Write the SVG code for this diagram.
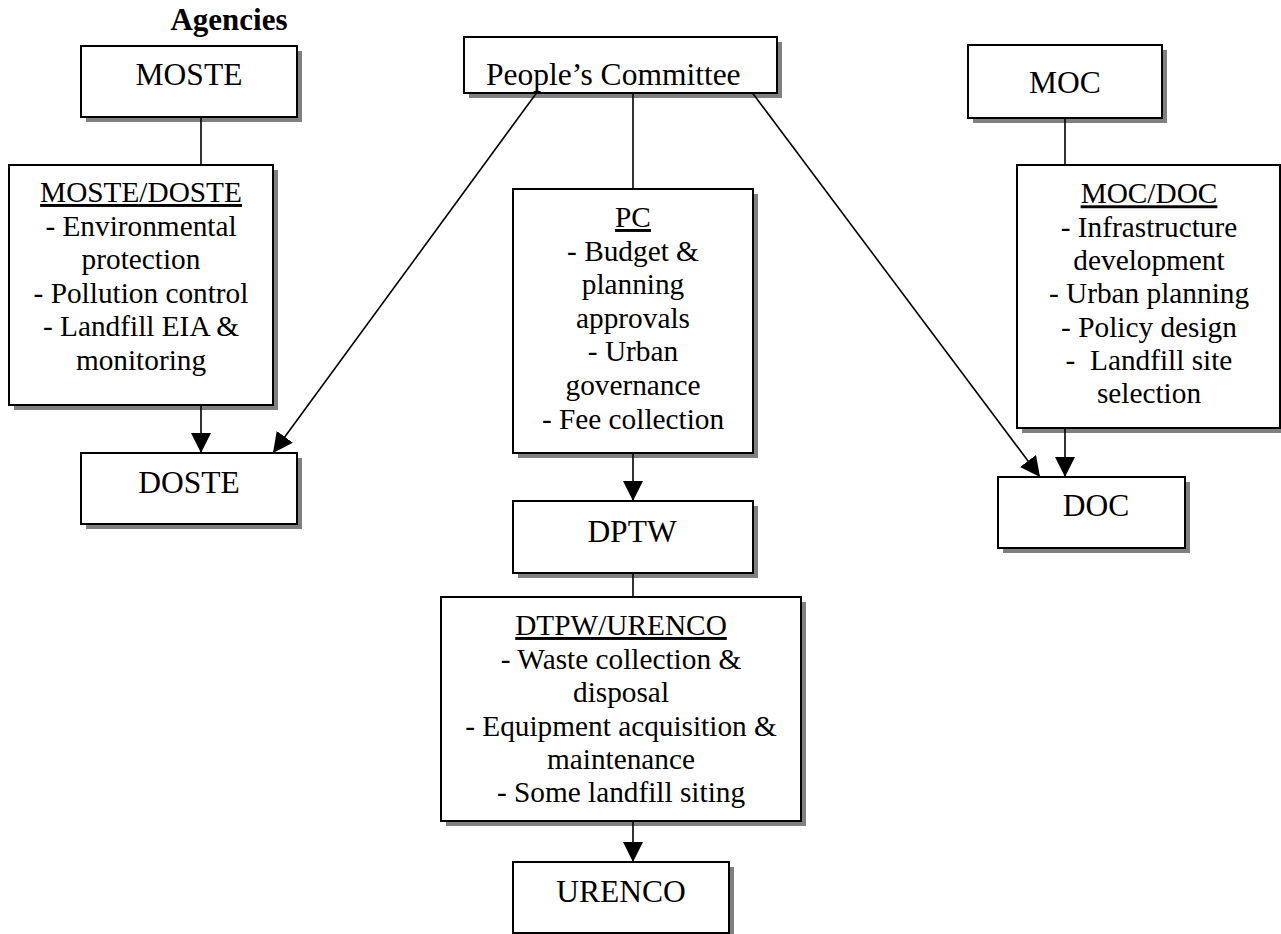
<svg xmlns="http://www.w3.org/2000/svg" width="1281" height="934" viewBox="0 0 1281 934">
<style>
  .shadow { fill: #808080; stroke: none; }
  .box { fill: #ffffff; stroke: #000000; stroke-width: 2; }
  .t { font-family: "Liberation Serif", "Times New Roman", serif; fill: #000000; text-anchor: middle; }
  .title { font-size: 31.5px; }
  .body { font-size: 29.3px; }
  .u { text-decoration: underline; }
  .conn { stroke: #000000; stroke-width: 1.6; fill: none; }
</style>
<defs>
  <marker id="arrow" markerUnits="userSpaceOnUse" markerWidth="21" markerHeight="21" refX="20" refY="10" orient="auto">
    <path d="M0,0 L20,10 L0,20 z" fill="#000000"/>
  </marker>
</defs>
<rect x="0" y="0" width="1281" height="934" fill="#ffffff"/>

<text id="agencies" x="229" y="30" class="t" style="font-size:31px;font-weight:bold">Agencies</text>

<g id="moste">
  <rect class="shadow" x="86" y="51" width="216" height="71"/>
  <rect class="box" x="81" y="46" width="216" height="71"/>
  <text class="t title" x="189" y="85">MOSTE</text>
</g>

<g id="moste-doste">
  <rect class="shadow" x="14" y="170" width="264" height="240"/>
  <rect class="box" x="9" y="165" width="264" height="240"/>
  <text class="t body" x="141" y="202"><tspan class="u">MOSTE/DOSTE</tspan></text>
  <text class="t body" x="141" y="235.5">- Environmental</text>
  <text class="t body" x="141" y="269">protection</text>
  <text class="t body" x="141" y="302.5">- Pollution control</text>
  <text class="t body" x="141" y="336">- Landfill EIA &amp;</text>
  <text class="t body" x="141" y="369.5">monitoring</text>
</g>

<g id="doste">
  <rect class="shadow" x="86" y="458" width="216" height="71"/>
  <rect class="box" x="81" y="453" width="216" height="71"/>
  <text class="t title" x="189" y="493">DOSTE</text>
</g>

<g id="peoples-committee">
  <rect class="shadow" x="469" y="42" width="313" height="56"/>
  <rect class="box" x="464" y="37" width="313" height="56"/>
  <text class="t title" x="486" y="85" style="text-anchor:start">People’s Committee</text>
</g>

<g id="pc">
  <rect class="shadow" x="518" y="194" width="240" height="264"/>
  <rect class="box" x="513" y="189" width="240" height="264"/>
  <text class="t body" x="633" y="227"><tspan class="u">PC</tspan></text>
  <text class="t body" x="633" y="260.5">- Budget &amp;</text>
  <text class="t body" x="633" y="294">planning</text>
  <text class="t body" x="633" y="327.5">approvals</text>
  <text class="t body" x="633" y="361">- Urban</text>
  <text class="t body" x="633" y="394.5">governance</text>
  <text class="t body" x="633" y="429">- Fee collection</text>
</g>

<g id="dptw">
  <rect class="shadow" x="518" y="506" width="240" height="72"/>
  <rect class="box" x="513" y="501" width="240" height="72"/>
  <text class="t title" x="632" y="542">DPTW</text>
</g>

<g id="dtpw-urenco">
  <rect class="shadow" x="446" y="602" width="360" height="224"/>
  <rect class="box" x="441" y="597" width="360" height="224"/>
  <text class="t body" x="621" y="635"><tspan class="u">DTPW/URENCO</tspan></text>
  <text class="t body" x="621" y="668.5">- Waste collection &amp;</text>
  <text class="t body" x="621" y="702">disposal</text>
  <text class="t body" x="621" y="735.5">- Equipment acquisition &amp;</text>
  <text class="t body" x="621" y="769">maintenance</text>
  <text class="t body" x="621" y="802">- Some landfill siting</text>
</g>

<g id="urenco">
  <rect class="shadow" x="518" y="867" width="216" height="71"/>
  <rect class="box" x="513" y="862" width="216" height="71"/>
  <text class="t title" x="621" y="902">URENCO</text>
</g>

<g id="moc">
  <rect class="shadow" x="973" y="50" width="194" height="73"/>
  <rect class="box" x="968" y="45" width="194" height="73"/>
  <text class="t title" x="1065" y="93">MOC</text>
</g>

<g id="moc-doc">
  <rect class="shadow" x="1022" y="170" width="263" height="263"/>
  <rect class="box" x="1017" y="165" width="263" height="263"/>
  <text class="t body" x="1149" y="203.3"><tspan class="u">MOC/DOC</tspan></text>
  <text class="t body" x="1149" y="236.7">- Infrastructure</text>
  <text class="t body" x="1149" y="270">development</text>
  <text class="t body" x="1149" y="303.3">- Urban planning</text>
  <text class="t body" x="1149" y="336.7">- Policy design</text>
  <text class="t body" x="1149" y="370" xml:space="preserve">-  Landfill site</text>
  <text class="t body" x="1149" y="403.3">selection</text>
</g>

<g id="doc">
  <rect class="shadow" x="1003" y="482" width="187" height="71"/>
  <rect class="box" x="998" y="477" width="187" height="71"/>
  <text class="t title" x="1096" y="516">DOC</text>
</g>

<g id="connectors">
  <line class="conn" x1="201" y1="117" x2="201" y2="165"/>
  <line class="conn" x1="201" y1="405" x2="201" y2="453" marker-end="url(#arrow)"/>
  <line class="conn" x1="536.5" y1="93" x2="273" y2="453" marker-end="url(#arrow)"/>
  <line class="conn" x1="633" y1="93" x2="633" y2="189"/>
  <line class="conn" x1="752.5" y1="93" x2="1040" y2="477" marker-end="url(#arrow)"/>
  <line class="conn" x1="633" y1="453" x2="633" y2="501" marker-end="url(#arrow)"/>
  <line class="conn" x1="633" y1="573" x2="633" y2="597"/>
  <line class="conn" x1="633" y1="821" x2="633" y2="862" marker-end="url(#arrow)"/>
  <line class="conn" x1="1065" y1="118" x2="1065" y2="165"/>
  <line class="conn" x1="1065" y1="428" x2="1065" y2="477" marker-end="url(#arrow)"/>
</g>
</svg>
